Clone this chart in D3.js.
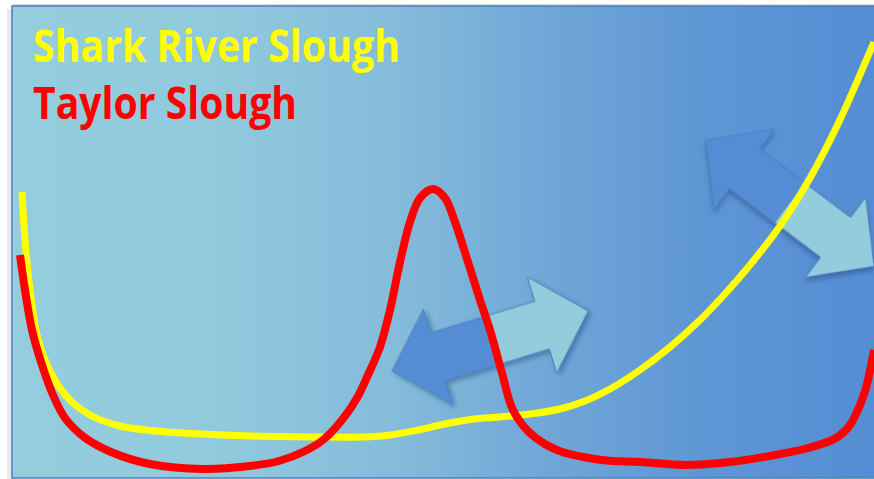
<!DOCTYPE html>
<html>
<head>
<meta charset="utf-8">
<script src="https://cdn.jsdelivr.net/npm/d3@7/dist/d3.min.js"></script>
<style>
  html, body { margin: 0; padding: 0; background: #ffffff; overflow: hidden; }
  svg { display: block; }
</style>
</head>
<body>
<div id="chart"></div>
<script>
// ---- Data (conceptual position along gradient vs. relative level) ----
const seriesNames = ["Shark River Slough", "Taylor Slough"];
const seriesColors = ["#ffff00", "#ff0000"];

const sharkX = [10, 13, 18, 25, 35, 46, 60, 78, 108, 155, 238, 308, 350, 378, 406, 433, 462, 488, 518, 548, 573, 598, 628, 658, 688, 711, 738, 768, 798, 825, 862];
const sharkY = [286, 238, 188, 143, 113, 93, 76, 63, 52, 46, 42, 41, 41, 43, 48, 54, 59, 61, 64, 69, 77, 89, 108, 131, 158, 182, 213, 252, 300, 352, 436];

const taylorX = [8, 13, 20, 30, 41, 53, 72, 99, 138, 191, 238, 267, 293, 311, 330, 345, 356, 368, 378, 388, 398, 408, 421, 433, 443, 456, 468, 478, 490, 501, 518, 545, 590, 629, 674, 718, 763, 796, 824, 838, 848, 854, 862];
const taylorY = [223, 188, 148, 113, 83, 60, 41, 26, 14, 9, 12, 17, 27, 38, 58, 80, 103, 131, 168, 216, 256, 280, 289, 280, 256, 216, 178, 148, 105, 68, 45, 28, 18, 16, 13, 16, 23, 30, 40, 53, 73, 90, 128];

// annotation arrows: centre (data units), direction in degrees
const arrowCx = [478, 778];
const arrowCy = [137, 275];
const arrowAngle = [-17, 37];
const arrowLen = [205, 210];

// ---- Layout ----
const W = 874, H = 479;
const frame = { x: 12, y: 6, w: 880, h: 472 };

const svg = d3.select("#chart").append("svg")
  .attr("width", W).attr("height", H);

const defs = svg.append("defs");

const bg = defs.append("linearGradient")
  .attr("id", "bgGrad")
  .attr("gradientUnits", "userSpaceOnUse")
  .attr("x1", 12).attr("x2", 874).attr("y1", 0).attr("y2", 0);
[[0, "#94cedd"], [0.25, "#90c9dc"], [0.45, "#84bbda"], [0.62, "#70a7d7"], [0.8, "#5e96d5"], [1, "#558dd4"]]
  .forEach(([o, c]) => bg.append("stop").attr("offset", o).attr("stop-color", c));

const ag = defs.append("linearGradient")
  .attr("id", "arrowGrad")
  .attr("x1", 0).attr("x2", 1).attr("y1", 0).attr("y2", 0);
[[0, "#548dd4"], [0.5, "#548dd4"], [0.5, "#93cddd"], [1, "#93cddd"]]
  .forEach(([o, c]) => ag.append("stop").attr("offset", o).attr("stop-color", c));

const sh = defs.append("filter").attr("id", "shadow")
  .attr("x", "-20%").attr("y", "-20%").attr("width", "140%").attr("height", "140%");
sh.append("feDropShadow").attr("dx", 2).attr("dy", 3).attr("stdDeviation", 2.5)
  .attr("flood-color", "#1f3c6e").attr("flood-opacity", 0.45);

defs.append("clipPath").attr("id", "clip")
  .append("rect").attr("x", frame.x).attr("y", frame.y).attr("width", frame.w).attr("height", frame.h);

// page shadow strip and frame
svg.append("rect").attr("x", 7).attr("y", 9).attr("width", 8).attr("height", H - 9).attr("fill", "#e9e9e9");
svg.append("rect").attr("x", 12).attr("y", 4).attr("width", W).attr("height", 3).attr("fill", "#dcdcdc");
svg.append("rect")
  .attr("x", frame.x).attr("y", frame.y).attr("width", frame.w).attr("height", frame.h)
  .attr("fill", "url(#bgGrad)")
  .attr("stroke", "#4a7ebb").attr("stroke-width", 1.5);

// ---- Scales ----
const x = d3.scaleLinear().domain([0, 862]).range([12, 874]);
const y = d3.scaleLinear().domain([0, 471]).range([478, 7]);

const plot = svg.append("g").attr("clip-path", "url(#clip)");

// ---- Arrows ----
arrowCx.forEach((cx, i) => {
  const L = arrowLen[i], Hh = 48, Wd = 50, S = 25;
  const pts = [
    [-L / 2, 0], [-L / 2 + Hh, -Wd], [-L / 2 + Hh, -S], [L / 2 - Hh, -S], [L / 2 - Hh, -Wd],
    [L / 2, 0], [L / 2 - Hh, Wd], [L / 2 - Hh, S], [-L / 2 + Hh, S], [-L / 2 + Hh, Wd]
  ];
  plot.append("path")
    .attr("transform", `translate(${x(cx)},${y(arrowCy[i])}) rotate(${arrowAngle[i]})`)
    .attr("d", "M" + pts.map(p => p.join(",")).join("L") + "Z")
    .attr("fill", "url(#arrowGrad)")
    .attr("stroke", "#4d7fc0").attr("stroke-width", 1)
    .attr("filter", "url(#shadow)");
});

// ---- Curves ----
const line = d3.line()
  .x(d => x(d[0])).y(d => y(d[1]))
  .curve(d3.curveCatmullRom.alpha(0.5));

plot.append("path")
  .datum(sharkX.map((v, i) => [v, sharkY[i]]))
  .attr("d", line)
  .attr("fill", "none")
  .attr("stroke", seriesColors[0])
  .attr("stroke-width", 7);

plot.append("path")
  .datum(taylorX.map((v, i) => [v, taylorY[i]]))
  .attr("d", line)
  .attr("fill", "none")
  .attr("stroke", seriesColors[1])
  .attr("stroke-width", 8);

// ---- Legend text ----
const legendBase = [62, 119];
const legendWidth = [367, 264];
seriesNames.forEach((name, i) => {
  svg.append("text")
    .attr("x", 33).attr("y", legendBase[i])
    .attr("fill", seriesColors[i])
    .attr("font-family", "'Liberation Sans Narrow', 'Open Sans', sans-serif")
    .attr("font-weight", "bold")
    .attr("font-size", 45)
    .attr("textLength", legendWidth[i])
    .attr("lengthAdjust", "spacingAndGlyphs")
    .text(name);
});
</script>
</body>
</html>
